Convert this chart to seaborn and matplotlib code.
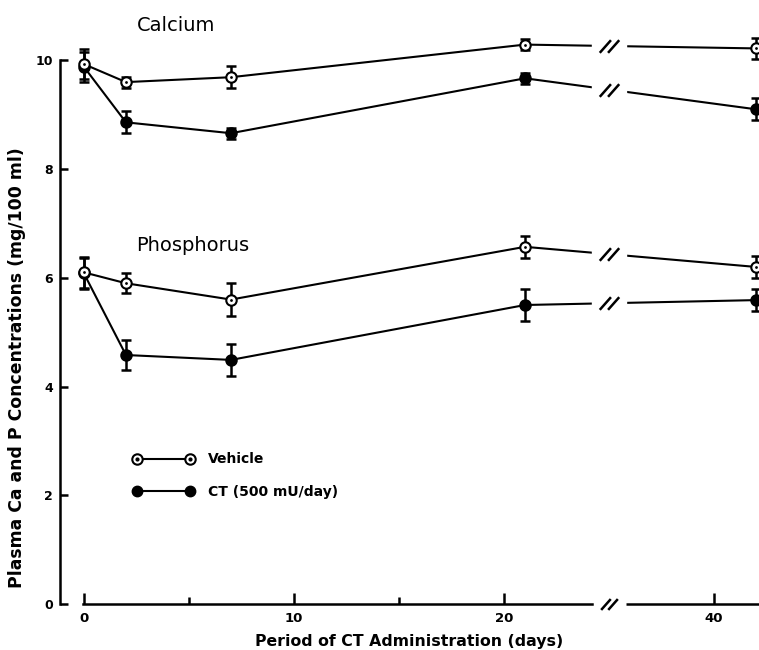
import numpy as np
import pandas as pd
import matplotlib
matplotlib.use("Agg")
import matplotlib.pyplot as plt
import seaborn as sns
from matplotlib.lines import Line2D
from matplotlib.path import Path
from matplotlib.legend_handler import HandlerTuple

## plasma Ca and P after calcitonin (CT) treatment

days = [0, 2, 7, 21, 42]

ca_vehicle = [9.93, 9.60, 9.69, 10.29, 10.22]
ca_vehicle_err = [0.28, 0.10, 0.20, 0.10, 0.20]
ca_ct = [9.88, 8.86, 8.66, 9.67, 9.10]
ca_ct_err = [0.28, 0.20, 0.10, 0.10, 0.20]

p_vehicle = [6.10, 5.90, 5.60, 6.57, 6.20]
p_vehicle_err = [0.28, 0.18, 0.30, 0.20, 0.20]
p_ct = [6.08, 4.58, 4.49, 5.50, 5.59]
p_ct_err = [0.28, 0.27, 0.29, 0.29, 0.20]

x_ticklabels = [0, 10, 20, 40]
y_ticks = [0, 2, 4, 6, 8, 10]

# broken x axis: days after the break are pulled left by SHIFT days
BREAK = 25
SHIFT = 10
GAP_LO, GAP_HI = 24.2, 25.8


def squeeze(d):
    d = np.asarray(d, dtype=float)
    return np.where(d > BREAK, d - SHIFT, d)


rows = []
for mineral, group, vals, errs in [("Ca", "Vehicle", ca_vehicle, ca_vehicle_err),
                                   ("Ca", "CT", ca_ct, ca_ct_err),
                                   ("P", "Vehicle", p_vehicle, p_vehicle_err),
                                   ("P", "CT", p_ct, p_ct_err)]:
    for d, v, e in zip(days, vals, errs):
        rows.append({"mineral": mineral, "group": group, "day": d, "value": v, "err": e})
df = pd.DataFrame(rows)
df["pos"] = squeeze(df["day"])

sns.set_style("ticks")
plt.rcParams["font.family"] = ["DejaVu Sans"]
plt.rcParams.update({"text.color": "black", "axes.labelcolor": "black",
                     "xtick.color": "black", "ytick.color": "black",
                     "axes.edgecolor": "black"})

fig = plt.figure(figsize=(7.59, 6.5), dpi=100)
ax = fig.add_axes([60 / 759, 46 / 650, 699 / 759, 598 / 650])

MS = 7.5
for (mineral, group), sub in df.groupby(["mineral", "group"]):
    filled = group == "CT"
    ax.errorbar(sub["pos"], sub["value"], yerr=sub["err"], fmt="none", ecolor="black",
                elinewidth=1.8, capsize=3.5, capthick=1.8, zorder=2)
    sns.lineplot(data=sub, x="pos", y="value", ax=ax, color="black", lw=1.5,
                 marker="o", ms=MS, mec="black", mew=1.5,
                 mfc="black" if filled else "white", estimator=None, errorbar=None,
                 sort=False, zorder=3)
    if not filled:
        sns.scatterplot(data=sub, x="pos", y="value", ax=ax, color="black", s=4,
                        linewidth=0, zorder=5)

# gap in the lines at the break
ax.axvspan(GAP_LO, GAP_HI, ymin=0.005, color="white", zorder=4)

slash = Path([(-1.0, -0.65), (0.15, 0.65), (-0.15, -0.65), (1.0, 0.65)],
             [Path.MOVETO, Path.LINETO, Path.MOVETO, Path.LINETO])
for (mineral, group), sub in df.groupby(["mineral", "group"]):
    yb = np.interp(BREAK, sub["pos"], sub["value"])
    ax.plot([BREAK], [yb], ls="none", marker=slash, ms=14, mfc="none",
            mec="black", mew=1.8, zorder=6)
ax.plot([BREAK], [0], ls="none", marker=slash, ms=12, mfc="none",
        mec="black", mew=1.8, zorder=6, clip_on=False)

ax.set_xlim(-1.14, 32.14)
ax.set_ylim(0, 11)

ax.set_xticks(squeeze(x_ticklabels))
ax.set_xticklabels([str(t) for t in x_ticklabels])
ax.set_xticks([5, 15], minor=True)
ax.set_yticks(y_ticks)
ax.set_yticklabels([str(t) for t in y_ticks])

for s in ["top", "right"]:
    ax.spines[s].set_visible(False)
ax.spines["left"].set_bounds(0, 10)
ax.spines["bottom"].set_bounds(-0.05, GAP_LO)
ax.spines["left"].set_linewidth(1.8)
ax.spines["bottom"].set_linewidth(1.8)
ax.plot([GAP_HI, 33], [0, 0], color="black", lw=1.8, clip_on=False, zorder=2.5,
        solid_capstyle="butt")

ax.tick_params(axis="x", which="major", direction="in", length=8, width=1.8,
               pad=6, labelsize=9.5)
ax.tick_params(axis="x", which="minor", direction="in", length=5, width=1.8)
ax.tick_params(axis="y", direction="in", length=6, width=1.8, pad=5, labelsize=9)
for lab in ax.get_xticklabels() + ax.get_yticklabels():
    lab.set_fontweight("bold")

ax.set_xlabel("Period of CT Administration (days)", fontsize=11.3, fontweight="bold",
              labelpad=6)
ax.set_ylabel("Plasma Ca and P Concentrations (mg/100 ml)", fontsize=12.4,
              fontweight="bold")
ax.yaxis.set_label_coords(-0.049, 0.395)

ax.text(2.5, 10.64, "Calcium", fontsize=14, va="center", ha="left")
ax.text(2.5, 6.6, "Phosphorus", fontsize=14, va="center", ha="left")

# legend with a marker at each end of the line
veh_line = Line2D([], [], color="black", lw=1.5, marker="o", ms=MS, mfc="white",
                  mec="black", mew=1.5)
veh_dot = Line2D([], [], ls="none", marker="o", ms=2, color="black")
ct_line = Line2D([], [], color="black", lw=1.5, marker="o", ms=MS, mfc="black",
                 mec="black")
leg = ax.legend([(veh_line, veh_dot), ct_line], ["Vehicle", "CT (500 mU/day)"],
                handler_map={tuple: HandlerTuple(ndivide=1, pad=0)},
                loc="upper left", bbox_to_anchor=(0.094, 0.265), frameon=False,
                numpoints=2, handlelength=4.4, handletextpad=1.0, borderpad=0,
                labelspacing=1.35, prop={"size": 10, "weight": "bold"})

fig.savefig("out.png", dpi=100)
